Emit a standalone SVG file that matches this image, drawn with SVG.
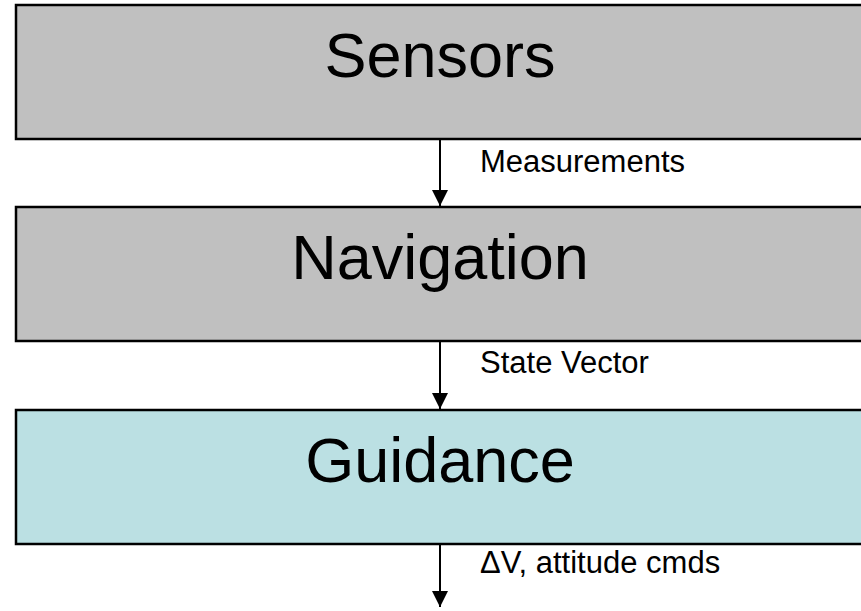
<svg xmlns="http://www.w3.org/2000/svg" width="861" height="611" viewBox="0 0 861 611">
  <style>
    .box { stroke: #000; stroke-width: 2.5; }
    .grey { fill: #C0C0C0; }
    .blue { fill: #BBE0E3; }
    .title { font-family: "Liberation Sans", Arial, sans-serif; font-size: 63px; fill: #000; text-anchor: middle; }
    .label { font-family: "Liberation Sans", Arial, sans-serif; font-size: 31px; fill: #000; }
    .flow { stroke: #000; stroke-width: 2; fill: none; }
  </style>
  <defs>
    <marker id="head" viewBox="0 0 16 16" refX="16" refY="8" markerWidth="16" markerHeight="16" markerUnits="userSpaceOnUse" orient="auto">
      <path d="M0,0 L16,8 L0,16 Z" fill="#000"/>
    </marker>
  </defs>
  <rect width="861" height="611" fill="#fff"/>

  <g id="sensors">
    <rect class="box grey" x="16" y="5" width="850" height="134"/>
    <text class="title" x="440" y="77">Sensors</text>
  </g>
  <g id="navigation">
    <rect class="box grey" x="16" y="207" width="850" height="134"/>
    <text class="title" x="440" y="279">Navigation</text>
  </g>
  <g id="guidance">
    <rect class="box blue" x="16" y="410" width="850" height="134"/>
    <text class="title" x="440" y="482">Guidance</text>
  </g>

  <g id="connectors">
    <line class="flow" x1="440" y1="140" x2="440" y2="206" marker-end="url(#head)"/>
    <line class="flow" x1="440" y1="342" x2="440" y2="409" marker-end="url(#head)"/>
    <line class="flow" x1="440" y1="545" x2="440" y2="607" marker-end="url(#head)"/>
    <text class="label" x="480" y="172">Measurements</text>
    <text class="label" x="480" y="373">State Vector</text>
    <text class="label" x="480" y="573">ΔV, attitude cmds</text>
  </g>
</svg>
